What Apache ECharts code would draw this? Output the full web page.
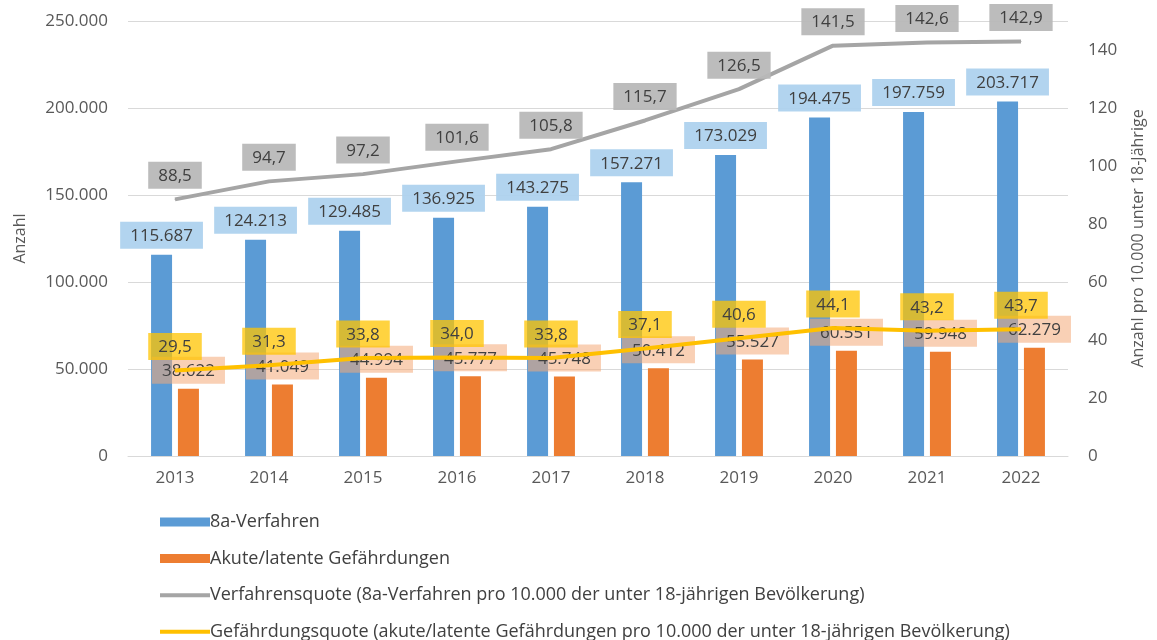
<!DOCTYPE html>
<html><head><meta charset="utf-8">
<script src="https://cdn.jsdelivr.net/npm/echarts@6/dist/echarts.min.js"></script>
<style>html,body{margin:0;padding:0;background:#fff}#c{width:1157px;height:640px}</style>
</head><body><div id="c"></div>
<script>
const categories = ['2013','2014','2015','2016','2017','2018','2019','2020','2021','2022'];
const verfahren = [115687,124213,129485,136925,143275,157271,173029,194475,197759,203717];
const gefaehrdungen = [38622,41049,44994,45777,45748,50412,55527,60551,59948,62279];
const verfahrensquote = [88.5,94.7,97.2,101.6,105.8,115.7,126.5,141.5,142.6,142.9];
const gefaehrdungsquote = [29.5,31.3,33.8,34.0,33.8,37.1,40.6,44.1,43.2,43.7];
const seriesNames = ['8a-Verfahren','Akute/latente Gefährdungen','Verfahrensquote (8a-Verfahren pro 10.000 der unter 18-jährigen Bevölkerung)','Gefährdungsquote (akute/latente Gefährdungen pro 10.000 der unter 18-jährigen Bevölkerung)'];

const FONT = 'Open Sans';
const thousands = v => String(Math.round(v)).replace(/\B(?=(\d{3})+(?!\d))/g, '.');
const comma = v => v.toFixed(1).replace('.', ',');
const lbl = (bg, fmt, dist) => ({
  show: true, position: 'top', distance: dist,
  backgroundColor: bg, padding: [6, 10, 4, 10],
  color: '#404040', fontFamily: FONT, fontSize: 17,
  formatter: p => fmt(p.value)
});
const lineIcon = 'path://M0,0H50V4H0Z';

const chart = echarts.init(document.getElementById('c'));
chart.setOption({
  animation: false,
  grid: { left: 128, right: 89, top: 21, bottom: 184 },
  legend: {
    orient: 'vertical', left: 160, top: 513, height: 160, padding: 0,
    itemWidth: 50, itemHeight: 9, itemGap: 18.6,
    textStyle: { fontFamily: FONT, fontSize: 18, color: '#404040', lineHeight: 18, padding: [0,0,0,-5] },
    data: [
      { name: seriesNames[0], icon: 'rect' },
      { name: seriesNames[1], icon: 'rect' },
      { name: seriesNames[2], icon: lineIcon },
      { name: seriesNames[3], icon: lineIcon }
    ]
  },
  xAxis: {
    type: 'category', data: categories,
    axisLine: { lineStyle: { color: '#d9d9d9', width: 1 } },
    axisTick: { show: false },
    axisLabel: { color: '#595959', fontFamily: FONT, fontSize: 17, margin: 14 }
  },
  yAxis: [
    {
      type: 'value', min: 0, max: 250000, interval: 50000,
      name: 'Anzahl', nameLocation: 'middle', nameGap: 100, nameRotate: 90,
      nameTextStyle: { color: '#595959', fontFamily: FONT, fontSize: 16 },
      axisLabel: { color: '#595959', fontFamily: FONT, fontSize: 17, margin: 20, formatter: thousands },
      splitLine: { lineStyle: { color: '#d9d9d9', width: 1 } },
      axisLine: { show: false }, axisTick: { show: false }
    },
    {
      type: 'value', min: 0, max: 150, interval: 20,
      name: 'Anzahl pro 10.000 unter 18-Jährige', nameLocation: 'middle', nameGap: 62, nameRotate: 90,
      nameTextStyle: { color: '#595959', fontFamily: FONT, fontSize: 16 },
      axisLabel: { color: '#595959', fontFamily: FONT, fontSize: 17, margin: 20, showMaxLabel: false },
      splitLine: { show: false }, axisLine: { show: false }, axisTick: { show: false }
    }
  ],
  series: [
    {
      name: seriesNames[0], type: 'bar', data: verfahren, barWidth: 21, barGap: '28%',
      itemStyle: { color: '#5b9bd5' },
      label: lbl('rgba(174,210,238,0.95)', thousands, 6)
    },
    {
      name: seriesNames[1], type: 'bar', data: gefaehrdungen, barWidth: 21,
      itemStyle: { color: '#ed7d31' },
      label: lbl('rgba(244,170,120,0.55)', thousands, 5)
    },
    {
      name: seriesNames[2], type: 'line', yAxisIndex: 1, data: verfahrensquote,
      showSymbol: true, symbol: 'circle', symbolSize: 1,
      lineStyle: { color: '#a5a5a5', width: 4 }, itemStyle: { color: '#a5a5a5' },
      label: lbl('rgba(184,184,184,0.95)', comma, 10)
    },
    {
      name: seriesNames[3], type: 'line', yAxisIndex: 1, data: gefaehrdungsquote,
      showSymbol: true, symbol: 'circle', symbolSize: 1,
      lineStyle: { color: '#ffc000', width: 4 }, itemStyle: { color: '#ffc000' },
      label: lbl('rgba(255,196,0,0.75)', comma, 10)
    }
  ]
});
</script></body></html>
